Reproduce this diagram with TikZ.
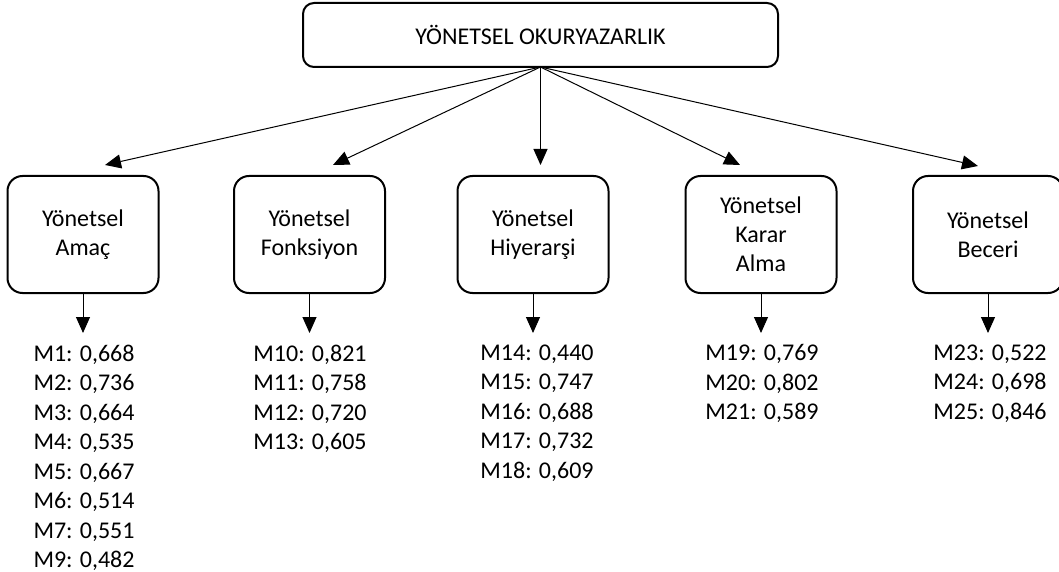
\documentclass[tikz,border=0pt]{standalone}
\usepackage{fontspec}
\setmainfont{Carlito}
\usetikzlibrary{arrows.meta}
\begin{document}
\begin{tikzpicture}[x=1pt,y=-1pt,
  every node/.style={font=\fontsize{24}{29}\selectfont},
  topbox/.style={draw,line width=2pt,rounded corners=11pt,minimum width=475pt,minimum height=64pt,inner sep=0pt},
  catbox/.style={draw,line width=2pt,rounded corners=15pt,minimum width=151pt,minimum height=117pt,inner sep=0pt,align=center},
  listnode/.style={anchor=north,inner sep=0pt,align=left,font=\fontsize{24}{29.5}\selectfont},
  conn/.style={line width=1pt,-{Triangle[length=16pt,width=14pt]}}
]
\useasboundingbox (0,0) rectangle (1059,572);
\node[topbox] (top) at (540.5,35) {YÖNETSEL OKURYAZARLIK};
\coordinate (apex) at (540.5,67);

\node[catbox] (b1) at (83,234.5) {Yönetsel\\Amaç};
\node[catbox] (b2) at (309.5,234.5) {Yönetsel\\Fonksiyon};
\node[catbox] (b3) at (533,234.5) {Yönetsel\\Hiyerarşi};
\node[catbox] (b4) at (761,234.5) {Yönetsel\\Karar\\Alma};
\node[catbox,minimum width=150pt] (b5) at (988,234.5) {Yönetsel\\Beceri};

\coordinate (t1) at (105,165);
\coordinate (t2) at (333,165);
\coordinate (t3) at (540.5,165);
\coordinate (t4) at (740,165);
\coordinate (t5) at (978,166);
\foreach \i in {1,...,5}{\draw[conn] (apex) -- (t\i);}

\coordinate (d1) at (83,333);
\coordinate (d2) at (309.5,333);
\coordinate (d3) at (533,333);
\coordinate (d4) at (761,333);
\coordinate (d5) at (988,333);
\foreach \i in {1,...,5}{\draw[conn] (b\i.south) -- (d\i);}

\node[listnode] (l1) at (84,344.5) {M1: 0,668\\M2: 0,736\\M3: 0,664\\M4: 0,535\\M5: 0,667\\M6: 0,514\\M7: 0,551\\M9: 0,482};
\node[listnode] (l2) at (310,344.5) {M10: 0,821\\M11: 0,758\\M12: 0,720\\M13: 0,605};
\node[listnode] (l3) at (537,344.5) {M14: 0,440\\M15: 0,747\\M16: 0,688\\M17: 0,732\\M18: 0,609};
\node[listnode] (l4) at (762,344.5) {M19: 0,769\\M20: 0,802\\M21: 0,589};
\node[listnode] (l5) at (990,344.5) {M23: 0,522\\M24: 0,698\\M25: 0,846};
\end{tikzpicture}
\end{document}
